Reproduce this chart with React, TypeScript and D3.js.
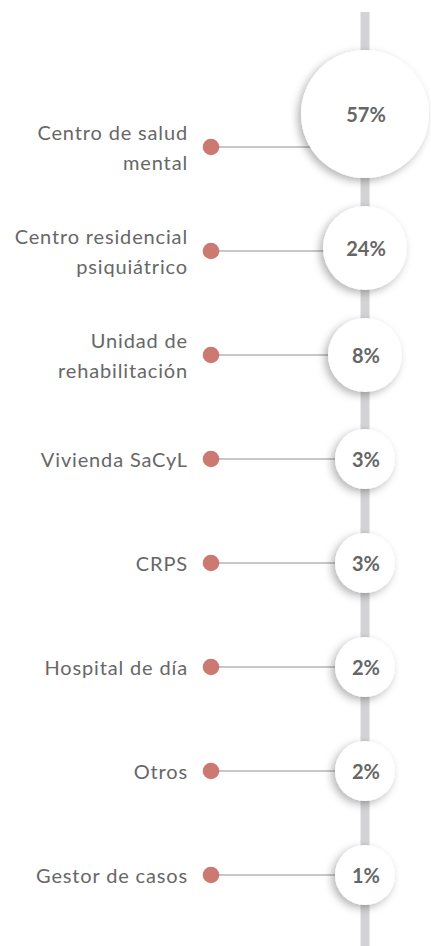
import React from "react";
import * as d3 from "d3";

const categories: string[][] = [
  ["Centro de salud", "mental"],
  ["Centro residencial", "psiquiátrico"],
  ["Unidad de", "rehabilitación"],
  ["Vivienda SaCyL"],
  ["CRPS"],
  ["Hospital de día"],
  ["Otros"],
  ["Gestor de casos"],
];
const values: number[] = [57, 24, 8, 3, 3, 2, 2, 1];

const W = 431;
const H = 946;
const AXIS_X = 365;
const DOT_X = 211;
const LABEL_X = 188;
const GAP = 28;
const FONT = "Lato, 'Open Sans', sans-serif";

export default function App() {
  const y = d3
    .scalePoint<number>()
    .domain(d3.range(values.length))
    .range([147, 875]);
  const r = d3
    .scaleLinear()
    .domain([3, 8, 24, 57])
    .range([30, 37, 42, 64])
    .clamp(true);

  const radii = values.map((v) => r(v));
  const cys: number[] = new Array(values.length);
  for (let i = values.length - 1; i >= 0; i--) {
    const rowY = y(i) as number;
    if (i === values.length - 1) cys[i] = rowY;
    else cys[i] = Math.min(rowY, cys[i + 1] - radii[i + 1] - GAP - radii[i]);
  }

  return (
    <svg
      width={W}
      height={H}
      style={{ position: "absolute", left: 0, top: 0, background: "#fff" }}
    >
      <defs>
        <filter id="sh" x="-40%" y="-40%" width="180%" height="180%">
          <feDropShadow dx={-3} dy={3} stdDeviation={4} floodColor="#000" floodOpacity={0.3} />
        </filter>
      </defs>
      <rect x={AXIS_X - 4.5} y={12} width={9} height={H - 12} fill="#d3d3d5" />
      {values.map((v, i) => {
        const rowY = y(i) as number;
        const lines = categories[i];
        const offs = lines.length === 1 ? [0] : [-15, 14.5];
        return (
          <g key={i}>
            <line x1={DOT_X} x2={AXIS_X} y1={rowY} y2={rowY} stroke="#b4b4b6" strokeWidth={1.5} />
            <circle cx={DOT_X} cy={rowY} r={8.3} fill="#cc7a71" />
            <text
              x={LABEL_X}
              textAnchor="end"
              fontFamily={FONT}
              fontSize={20}
              letterSpacing={0.85}
              fill="#676767"
            >
              {lines.map((t, j) => (
                <tspan key={j} x={LABEL_X} y={rowY + offs[j]} dominantBaseline="central">
                  {t}
                </tspan>
              ))}
            </text>
          </g>
        );
      })}
      {values.map((v, i) => (
        <g key={"c" + i}>
          <circle cx={AXIS_X} cy={cys[i]} r={radii[i]} fill="#fff" filter="url(#sh)" />
          <text
            x={AXIS_X + 1}
            y={cys[i]}
            textAnchor="middle"
            dominantBaseline="central"
            fontFamily={FONT}
            fontWeight={700}
            fontSize={20}
            fill="#666"
          >
            {v + "%"}
          </text>
        </g>
      ))}
    </svg>
  );
}
